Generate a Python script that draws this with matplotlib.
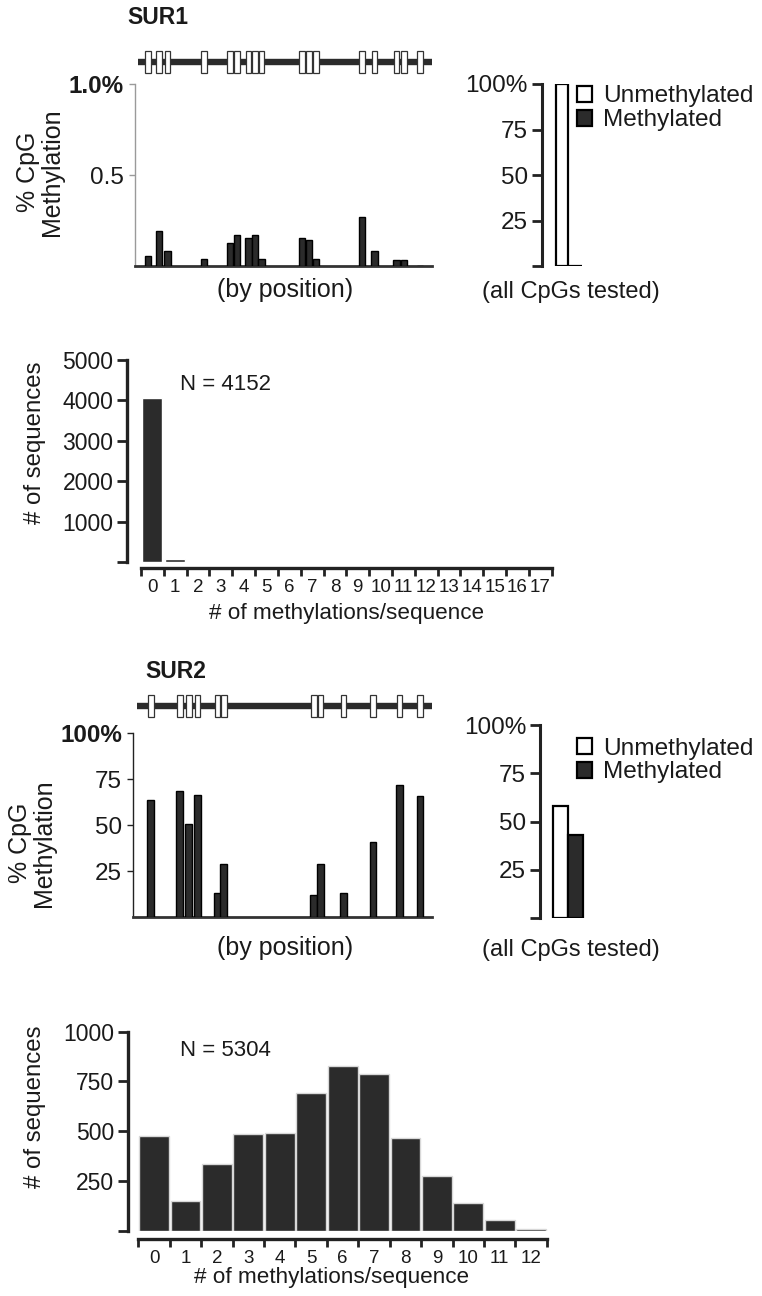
import matplotlib
matplotlib.use("Agg")
import matplotlib.pyplot as plt
import numpy as np

plt.rcParams['font.family'] = ['Liberation Sans', 'DejaVu Sans']
TXT = '#1a1a1a'
DARK = '#2b2b2b'

# ---------------- data ----------------
# SUR1: CpG positions along the amplicon (relative units) and % methylation per CpG
sur1_cpg_pos = [13, 24, 32.5, 69, 95, 102, 113.5, 120, 126.5, 167, 174, 181, 227, 239.5, 261.5, 269, 285]
sur1_cpg_meth = [0.053, 0.193, 0.079, 0.037, 0.123, 0.167, 0.153, 0.167, 0.037,
                 0.153, 0.143, 0.037, 0.267, 0.079, 0.033, 0.033, 0.0]
sur1_gene_span = [3, 298]
sur1_overall = [99.9, 0.1]            # Unmethylated, Methylated (%)
sur1_hist_bins = list(range(0, 18))
sur1_hist_counts = [4060, 75, 12, 4, 1, 0, 0, 0, 0, 0, 0, 0, 0, 0, 0, 0, 0, 0]
sur1_N = 4152

# SUR2
sur2_cpg_pos = [15.7, 44.7, 53.7, 62.5, 82.3, 88.7, 178.7, 185.3, 208.3, 238, 264.5, 285]
sur2_cpg_meth = [63.4, 68.8, 50.5, 66.1, 13.4, 28.8, 12.3, 28.8, 13.4, 40.8, 71.9, 65.6]
sur2_gene_span = [1.5, 297]
sur2_overall = [58, 43]               # Unmethylated, Methylated (%)
sur2_hist_bins = list(range(0, 13))
sur2_hist_counts = [478, 149, 335, 485, 493, 694, 827, 785, 466, 275, 138, 54, 10]
sur2_N = 5304

overall_labels = ['Unmethylated', 'Methylated']

# ---------------- layout helpers ----------------
W, H = 762, 1296
fig = plt.figure(figsize=(W / 100, H / 100), dpi=100)


def add_ax(l, t, r, b):
    return fig.add_axes([l / W, 1 - b / H, (r - l) / W, (b - t) / H])


def ftext(x, y, s, **kw):
    kw.setdefault('color', TXT)
    return fig.text(x / W, 1 - y / H, s, **kw)


def gene_diagram(l, t, r, b, xlim, span, pos):
    ax = add_ax(l, t, r, b)
    ax.set_xlim(*xlim)
    ax.set_ylim(-1, 1)
    ax.plot(span, [0, 0], color=DARK, lw=4.6, solid_capstyle='butt', zorder=1)
    ax.bar(pos, 1.3, bottom=-0.65, width=5.6, facecolor='white',
           edgecolor='#333333', linewidth=0.9, zorder=2)
    ax.axis('off')
    return ax


def position_panel(l, t, r, b, xlim, pos, vals, ymax, ticks, ticklabels, left_color, width):
    ax = add_ax(l, t, r, b)
    ax.bar(pos, vals, width=width, facecolor=DARK, edgecolor='black', linewidth=1.0, zorder=3)
    ax.set_xlim(*xlim)
    ax.set_ylim(0, ymax)
    for s in ['top', 'right']:
        ax.spines[s].set_visible(False)
    ax.spines['left'].set_color(left_color)
    ax.spines['left'].set_linewidth(1.0)
    ax.spines['bottom'].set_color('#333333')
    ax.spines['bottom'].set_linewidth(2.0)
    ax.set_xticks([])
    ax.set_yticks(ticks)
    ax.set_yticklabels(ticklabels)
    ax.tick_params(axis='y', length=4, width=1.0, color=left_color, labelsize=17.5,
                   labelcolor=TXT, pad=4)
    ax.get_yticklabels()[-1].set_fontweight('bold')
    return ax


def overall_panel(l, t, r, b, xlim, vals, width, leg_xy):
    ax = add_ax(l, t, r, b)
    bars = ax.bar([0, 1], vals, width=width, color=['white', DARK],
                  edgecolor='black', linewidth=1.6, zorder=3)
    ax.set_xlim(*xlim)
    ax.set_ylim(0, 100)
    for s in ['top', 'right', 'bottom']:
        ax.spines[s].set_visible(False)
    ax.spines['left'].set_linewidth(2.2)
    ax.spines['left'].set_color('#222222')
    ax.set_xticks([])
    ax.set_yticks([0, 25, 50, 75, 100])
    ax.set_yticklabels(['', '25', '50', '75', '100%'])
    ax.tick_params(axis='y', length=7, width=2.0, color='#222222', labelsize=17.5,
                   labelcolor=TXT, pad=3)
    handles = [bars[0], bars[1]]
    fig.legend(handles, overall_labels, loc='center left',
               bbox_to_anchor=(leg_xy[0] / W, 1 - leg_xy[1] / H),
               frameon=False, fontsize=17.6, handlelength=0.6, handleheight=0.6,
               handletextpad=0.45, labelspacing=0.08, borderpad=0, borderaxespad=0,
               labelcolor=TXT)
    return ax


def hist_panel(l, t, r, b, xlim, bins, counts, ymax, yticks, yticklabels, width,
               edgecolor, outward):
    ax = add_ax(l, t, r, b)
    ax.bar(bins, counts, width=width, facecolor=DARK, edgecolor=edgecolor,
           linewidth=1.0, zorder=3)
    ax.set_xlim(*xlim)
    ax.set_ylim(0, ymax)
    for s in ['top', 'right']:
        ax.spines[s].set_visible(False)
    ax.spines['left'].set_linewidth(2.4)
    ax.spines['left'].set_color('#222222')
    ax.spines['left'].set_bounds(0, ymax)
    ax.spines['bottom'].set_linewidth(2.4)
    ax.spines['bottom'].set_color('#222222')
    ax.spines['bottom'].set_position(('outward', outward))
    edges = np.arange(bins[0] - 0.5, bins[-1] + 1.0, 1.0)
    ax.spines['bottom'].set_bounds(edges[0], edges[-1])
    ax.set_xticks(edges)
    ax.set_xticklabels([])
    ax.set_xticks(bins, minor=True)
    ax.set_xticklabels([str(v) for v in bins], minor=True)
    ax.tick_params(axis='x', which='major', length=6, width=2.0, color='#222222')
    ax.tick_params(axis='x', which='minor', length=0, labelsize=13.5, labelcolor=TXT, pad=8)
    ax.set_yticks(yticks)
    ax.set_yticklabels(yticklabels)
    ax.tick_params(axis='y', length=7, width=2.0, color='#222222', labelsize=16.5,
                   labelcolor=TXT, pad=3)
    return ax


# ================= SUR1 =================
ftext(127, 17, 'SUR1', fontsize=16.5, fontweight='bold', ha='left', va='center')
gene_diagram(135, 45, 432, 79, (0, 297), sur1_gene_span, sur1_cpg_pos)
position_panel(135, 84.3, 432, 265.7, (0, 297), sur1_cpg_pos, sur1_cpg_meth, 1.0,
               [0.5, 1.0], ['0.5', '1.0%'], '#9a9a9a', 6.8)
ftext(40, 172, '% CpG\nMethylation', fontsize=18, rotation=90, ha='center', va='center',
      linespacing=1.0)
ftext(285, 290, '(by position)', fontsize=18, ha='center', va='center')

overall_panel(541.7, 84, 600, 266, (-1.52, 2.8), sur1_overall, 0.93, (577, 108.4))
ftext(571, 292, '(all CpGs tested)', fontsize=17, ha='center', va='center')

hist_panel(127.3, 360, 554, 562, (-1.1, 17.6), sur1_hist_bins, sur1_hist_counts, 5000,
           [0, 1000, 2000, 3000, 4000, 5000], ['', '1000', '2000', '3000', '4000', '5000'],
           0.88, 'white', 4.5)
ftext(35, 443, '# of sequences', fontsize=17.3, rotation=90, ha='center', va='center')
ftext(180, 385, 'N = %d' % sur1_N, fontsize=16, ha='left', va='center')
ftext(347, 613, '# of methylations/sequence', fontsize=16.2, ha='center', va='center')

# ================= SUR2 =================
ftext(145, 672, 'SUR2', fontsize=16.5, fontweight='bold', ha='left', va='center')
gene_diagram(133, 689, 432, 723, (-2, 297), sur2_gene_span, sur2_cpg_pos)
position_panel(133, 733, 432, 917.3, (-2, 297), sur2_cpg_pos, sur2_cpg_meth, 100,
               [25, 50, 75, 100], ['25', '50', '75', '100%'], '#222222', 6.7)
ftext(32, 843, '% CpG\nMethylation', fontsize=18, rotation=90, ha='center', va='center',
      linespacing=1.0)
ftext(285, 948, '(by position)', fontsize=18, ha='center', va='center')

overall_panel(540, 725, 600, 918.3, (-1.31, 2.61), sur2_overall, 0.98, (577, 760.5))
ftext(571, 950, '(all CpGs tested)', fontsize=17, ha='center', va='center')

hist_panel(128.3, 1031.7, 550, 1230.7, (-0.82, 12.6), sur2_hist_bins, sur2_hist_counts, 1000,
           [0, 250, 500, 750, 1000], ['', '250', '500', '750', '1000'],
           0.95, '#d8d8d8', 6)
ftext(35, 1107, '# of sequences', fontsize=17.3, rotation=90, ha='center', va='center')
ftext(180, 1050, 'N = %d' % sur2_N, fontsize=16, ha='left', va='center')
ftext(332, 1277, '# of methylations/sequence', fontsize=16.2, ha='center', va='center')

fig.savefig('out.png', dpi=100, facecolor='white')
